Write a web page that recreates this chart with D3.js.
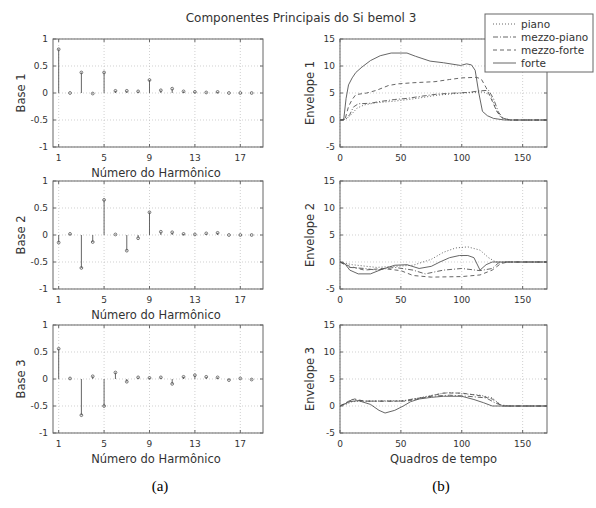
<!DOCTYPE html>
<html>
<head>
<meta charset="utf-8">
<script src="https://cdn.jsdelivr.net/npm/d3@7"></script>
<style>
  body { margin: 0; background: #fff; }
  text { font-family: "DejaVu Sans", sans-serif; fill: #333; }
</style>
</head>
<body>
<div id="fig"></div>
<script>
// harmonic numbers and the three principal component bases
var harmonics = [1, 2, 3, 4, 5, 6, 7, 8, 9, 10, 11, 12, 13, 14, 15, 16, 17, 18];
var base1 = [0.81, 0.0, 0.38, -0.01, 0.38, 0.04, 0.04, 0.03, 0.24, 0.05, 0.08, 0.03, 0.02, 0.01, 0.02, 0.0, 0.0, 0.0];
var base2 = [-0.14, 0.02, -0.61, -0.13, 0.65, 0.01, -0.29, -0.06, 0.42, 0.06, 0.05, 0.02, 0.01, 0.03, 0.04, 0.0, 0.0, 0.0];
var base3 = [0.56, 0.01, -0.67, 0.05, -0.5, 0.12, -0.05, 0.03, 0.02, 0.03, -0.09, 0.04, 0.07, 0.04, 0.03, -0.02, 0.01, -0.01];

var harmTicks = [1, 5, 9, 13, 17];
var baseTicks = [-1, -0.5, 0, 0.5, 1];
var frameTicks = [0, 50, 100, 150];
var envTicks = [-5, 0, 5, 10, 15];

var dynamics = ["piano", "mezzo-piano", "mezzo-forte", "forte"];

// envelopes: [frame, value]
var env1Piano = [[0,0],[6,0.3],[10,1.2],[14,2.2],[20,2.8],[30,3.2],[45,3.5],[60,3.9],[80,4.6],[100,5],[118,5.2],[124,4.5],[128,2],[132,0.5],[138,0],[170,0]];
var env1MezzoPiano = [[0,0],[5,0.2],[8,1],[11,2.4],[15,3],[25,3.1],[32,3.4],[45,3.8],[55,4],[70,4.5],[80,4.8],[95,5],[105,5.1],[115,5.4],[122,5.5],[126,4],[130,1.5],[134,0.3],[140,0],[170,0]];
var env1MezzoForte = [[0,0],[4,0],[7,2.5],[10,3.8],[13,4.7],[22,5],[30,5.5],[40,6.4],[48,6.7],[60,6.9],[78,7.1],[90,7.5],[100,7.8],[112,7.9],[116,7.6],[120,6],[125,3.5],[129,1.5],[133,0.4],[140,0],[170,0]];
var env1Forte = [[0,0],[3,0],[5,4],[7,6.5],[10,7.8],[13,8.8],[18,9.8],[25,11],[33,11.9],[42,12.4],[55,12.4],[62,11.8],[74,10.9],[85,10.6],[99,10.1],[104,10.4],[108,10.2],[111,9.2],[114,5],[117,1.6],[121,0.8],[126,0.3],[135,0],[170,0]];

var env2Piano = [[0,0],[10,-0.5],[30,-1],[45,-0.8],[60,-0.6],[75,0.5],[85,1.8],[95,2.6],[105,2.8],[115,2.2],[122,0.8],[128,0],[170,0]];
var env2MezzoPiano = [[0,0],[8,-1],[20,-1.2],[30,-1.5],[45,-1],[60,-1.5],[70,-2.2],[85,-1.5],[100,-1.2],[115,-1.6],[125,-1.2],[130,-0.2],[136,0],[170,0]];
var env2MezzoForte = [[0,0],[8,-0.8],[20,-1.5],[35,-1.2],[50,-1.6],[60,-2.5],[75,-2.8],[100,-2.7],[115,-2.4],[125,-1.5],[132,-0.3],[138,0],[170,0]];
var env2Forte = [[0,0],[4,-0.3],[8,-1.5],[15,-2.2],[25,-2.2],[35,-1.3],[45,-0.6],[55,-0.5],[65,-1.2],[75,-0.8],[82,0],[90,0.8],[98,1.2],[105,1.2],[110,0.8],[115,-1.5],[120,-0.5],[125,0],[170,0]];

var env3Piano = [[0,0],[5,0.3],[10,0.8],[20,0.9],[55,1],[65,1.5],[80,2.2],[90,2.5],[100,2.3],[115,2],[125,1.5],[132,0.2],[140,0],[170,0]];
var env3MezzoPiano = [[0,0],[5,0.5],[10,1.2],[20,0.9],[50,0.9],[60,1.3],[75,1.8],[90,2],[105,1.8],[120,1.5],[128,0.5],[135,0],[170,0]];
var env3MezzoForte = [[0,0],[8,1],[12,1.3],[20,0.9],[55,0.9],[70,1.6],[85,2.4],[100,2.4],[115,1.9],[125,1.3],[133,0],[170,0]];
var env3Forte = [[0,0],[8,0.8],[15,1],[25,0.3],[32,-0.8],[37,-1.3],[45,-0.8],[52,0],[58,0.8],[65,1.3],[75,1.6],[85,1.8],[100,1.8],[110,1.2],[118,0.6],[125,0],[170,0]];

var W = 596, H = 508;
var dashes = {"piano": "1,2", "mezzo-piano": "5,2,1,2", "mezzo-forte": "4,3", "forte": null};
var INK = "#555";

var svg = d3.select("#fig").append("svg")
  .attr("width", W).attr("height", H);

var rowTops = [39, 181, 325];
var panelH = 108;
var leftX = [53, 263], rightX = [340, 547];

function frame(g, x0, x1, y0, y1) {
  g.append("rect")
    .attr("x", x0).attr("y", y0)
    .attr("width", x1 - x0).attr("height", y1 - y0)
    .attr("fill", "none").attr("stroke", "#666").attr("stroke-width", 1);
}

// grid + inside ticks + labels for one panel
function axesFor(g, x, y, xt, yt) {
  var x0 = x.range()[0], x1 = x.range()[1];
  var y0 = y.range()[1], y1 = y.range()[0];
  xt.forEach(function(t) {
    g.append("line").attr("x1", x(t)).attr("x2", x(t)).attr("y1", y0).attr("y2", y1)
      .attr("stroke", "#bbb").attr("stroke-width", 0.7).attr("stroke-dasharray", "1,2");
    g.append("line").attr("x1", x(t)).attr("x2", x(t)).attr("y1", y1).attr("y2", y1 - 3).attr("stroke", "#666");
    g.append("line").attr("x1", x(t)).attr("x2", x(t)).attr("y1", y0).attr("y2", y0 + 3).attr("stroke", "#666");
    g.append("text").attr("x", x(t)).attr("y", y1 + 14)
      .attr("text-anchor", "middle").style("font-size", "9px").text(t);
  });
  yt.forEach(function(t) {
    g.append("line").attr("x1", x0).attr("x2", x1).attr("y1", y(t)).attr("y2", y(t))
      .attr("stroke", "#bbb").attr("stroke-width", 0.7).attr("stroke-dasharray", "1,2");
    g.append("line").attr("x1", x0).attr("x2", x0 + 3).attr("y1", y(t)).attr("y2", y(t)).attr("stroke", "#666");
    g.append("line").attr("x1", x1).attr("x2", x1 - 3).attr("y1", y(t)).attr("y2", y(t)).attr("stroke", "#666");
    g.append("text").attr("x", x0 - 5).attr("y", y(t) + 3)
      .attr("text-anchor", "end").style("font-size", "9px").text(t);
  });
}

var bases = [base1, base2, base3];
var envs = [
  [env1Piano, env1MezzoPiano, env1MezzoForte, env1Forte],
  [env2Piano, env2MezzoPiano, env2MezzoForte, env2Forte],
  [env3Piano, env3MezzoPiano, env3MezzoForte, env3Forte]
];

var line = d3.line();

rowTops.forEach(function(top, i) {
  var bottom = top + panelH;

  // left: stem plot of base i
  var gl = svg.append("g");
  var x = d3.scaleLinear().domain([0.5, 19]).range(leftX);
  var y = d3.scaleLinear().domain([-1, 1]).range([bottom, top]);
  axesFor(gl, x, y, harmTicks, baseTicks);

  gl.selectAll(".stem").data(bases[i]).enter().append("line")
    .attr("x1", function(d, j) { return x(harmonics[j]); })
    .attr("x2", function(d, j) { return x(harmonics[j]); })
    .attr("y1", y(0))
    .attr("y2", function(d) { return y(d); })
    .attr("stroke", INK).attr("stroke-width", 0.9);
  gl.selectAll(".mk").data(bases[i]).enter().append("circle")
    .attr("cx", function(d, j) { return x(harmonics[j]); })
    .attr("cy", function(d) { return y(d); })
    .attr("r", 1.4)
    .attr("fill", "none").attr("stroke", INK).attr("stroke-width", 0.8);
  frame(gl, leftX[0], leftX[1], top, bottom);

  gl.append("text")
    .attr("transform", "translate(25," + (top + panelH / 2) + ") rotate(-90)")
    .attr("text-anchor", "middle").style("font-size", "11.5px")
    .text("Base " + (i + 1));
  gl.append("text")
    .attr("x", (leftX[0] + leftX[1]) / 2 - 2).attr("y", bottom + 30)
    .attr("text-anchor", "middle").style("font-size", "11.5px")
    .text("Número do Harmônico");

  // right: envelopes
  var gr = svg.append("g");
  var xr = d3.scaleLinear().domain([0, 170]).range(rightX);
  var yr = d3.scaleLinear().domain([-5, 15]).range([bottom, top]);
  axesFor(gr, xr, yr, frameTicks, envTicks);
  line.x(function(d) { return xr(d[0]); }).y(function(d) { return yr(d[1]); });
  envs[i].forEach(function(series, k) {
    gr.append("path").datum(series)
      .attr("d", line)
      .attr("fill", "none").attr("stroke", INK).attr("stroke-width", 0.9)
      .attr("stroke-dasharray", dashes[dynamics[k]]);
  });
  frame(gr, rightX[0], rightX[1], top, bottom);

  gr.append("text")
    .attr("transform", "translate(314," + (top + panelH / 2) + ") rotate(-90)")
    .attr("text-anchor", "middle").style("font-size", "11.5px")
    .text("Envelope " + (i + 1));
  if (i === 2) {
    gr.append("text")
      .attr("x", (rightX[0] + rightX[1]) / 2).attr("y", bottom + 30)
      .attr("text-anchor", "middle").style("font-size", "11.5px")
      .text("Quadros de tempo");
  }
});

// title
svg.append("text").attr("x", 301).attr("y", 22)
  .attr("text-anchor", "middle").style("font-size", "12px")
  .text("Componentes Principais do Si bemol 3");

// legend
var lg = svg.append("g");
lg.append("rect").attr("x", 485).attr("y", 14).attr("width", 108).attr("height", 58)
  .attr("fill", "#fff").attr("stroke", "#666");
dynamics.forEach(function(name, k) {
  var yy = 24 + k * 13;
  lg.append("line").attr("x1", 493).attr("x2", 516).attr("y1", yy).attr("y2", yy)
    .attr("stroke", INK).attr("stroke-width", 0.9).attr("stroke-dasharray", dashes[name]);
  lg.append("text").attr("x", 521).attr("y", yy + 3.5).style("font-size", "10.5px").text(name);
});

// subfigure captions
svg.append("text").attr("x", 160).attr("y", 491).attr("text-anchor", "middle")
  .style("font-family", "'Liberation Serif', 'DejaVu Serif', serif").style("font-size", "15px")
  .style("fill", "#000").text("(a)");
svg.append("text").attr("x", 441).attr("y", 491).attr("text-anchor", "middle")
  .style("font-family", "'Liberation Serif', 'DejaVu Serif', serif").style("font-size", "15px")
  .style("fill", "#000").text("(b)");
</script>
</body>
</html>
